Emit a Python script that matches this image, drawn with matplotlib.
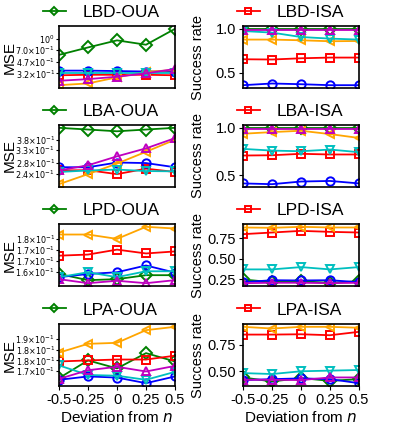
import matplotlib
matplotlib.use("Agg")
import matplotlib.pyplot as plt
from matplotlib.ticker import FixedLocator, NullLocator

plt.rcParams['font.family'] = ['Liberation Sans', 'DejaVu Sans']

x = [-0.5, -0.25, 0, 0.25, 0.5]
xtick_labels = ['-0.5', '-0.25', '0', '0.25', '0.5']

# series order: green D, red s, blue o, orange <, cyan v, magenta ^
colors = ['green', 'red', 'blue', 'orange', 'c', 'm']
markers = ['D', 's', 'o', '<', 'v', '^']

# ---- MSE (left column) ----
lbd_oua = [
    [0.59, 0.755, 0.955, 0.826, 1.40],
    [0.30, 0.305, 0.305, 0.305, 0.30],
    [0.35, 0.35, 0.345, 0.34, 0.34],
    [0.216, 0.229, 0.28, 0.337, 0.357],
    [0.327, 0.327, 0.327, 0.327, 0.327],
    [0.25, 0.264, 0.286, 0.32, 0.37],
]
lba_oua = [
    [0.444, 0.434, 0.424, 0.434, 0.444],
    [0.252, 0.253, 0.24, 0.258, 0.247],
    [0.263, 0.263, 0.28, 0.278, 0.263],
    [0.21, 0.24, 0.276, 0.323, 0.379],
    [0.247, 0.252, 0.255, 0.25, 0.249],
    [0.252, 0.27, 0.304, 0.338, 0.387],
]
lpd_oua = [
    [0.1586, 0.1555, 0.156, 0.158, 0.158],
    [0.1682, 0.1688, 0.1715, 0.1694, 0.1705],
    [0.157, 0.1586, 0.1595, 0.163, 0.1593],
    [0.180, 0.180, 0.1775, 0.1845, 0.1835],
    [0.157, 0.1595, 0.157, 0.160, 0.160],
    [0.156, 0.154, 0.1552, 0.154, 0.1555],
]
lpa_oua = [
    [0.1667, 0.1765, 0.172, 0.1807, 0.1759],
    [0.1759, 0.1765, 0.177, 0.177, 0.1792],
    [0.1658, 0.1676, 0.167, 0.164, 0.1676],
    [0.181, 0.1862, 0.1868, 0.1946, 0.1967],
    [0.1737, 0.1684, 0.168, 0.1658, 0.1701],
    [0.1663, 0.171, 0.1729, 0.1703, 0.1734],
]

# ---- Success rate (right column) ----
lbd_isa = [
    [1.0, 1.0, 1.0, 1.0, 1.0],
    [0.655, 0.652, 0.666, 0.674, 0.674],
    [0.361, 0.38, 0.372, 0.361, 0.361],
    [0.878, 0.878, 0.87, 0.859, 0.862],
    [0.975, 0.957, 0.907, 0.889, 0.878],
    [0.983, 0.983, 0.983, 0.983, 0.983],
]
lba_isa = [
    [1.0, 1.0, 1.0, 1.0, 1.0],
    [0.708, 0.711, 0.726, 0.719, 0.719],
    [0.414, 0.406, 0.434, 0.44, 0.414],
    [0.9375, 0.955, 0.969, 0.934, 0.893],
    [0.778, 0.76, 0.753, 0.771, 0.743],
    [0.986, 0.986, 0.986, 0.986, 0.986],
]
lpd_isa = [
    [0.25, 0.217, 0.229, 0.209, 0.229],
    [0.799, 0.819, 0.839, 0.827, 0.819],
    [0.217, 0.241, 0.238, 0.241, 0.217],
    [0.88, 0.876, 0.888, 0.88, 0.88],
    [0.372, 0.372, 0.40, 0.372, 0.40],
    [0.205, 0.21, 0.21, 0.205, 0.21],
]
lpa_isa = [
    [0.442, 0.404, 0.436, 0.41, 0.426],
    [0.845, 0.845, 0.848, 0.839, 0.871],
    [0.417, 0.426, 0.433, 0.426, 0.388],
    [0.918, 0.902, 0.918, 0.918, 0.909],
    [0.483, 0.474, 0.5, 0.506, 0.512],
    [0.42, 0.42, 0.417, 0.442, 0.442],
]

left_titles = ['LBD-OUA', 'LBA-OUA', 'LPD-OUA', 'LPA-OUA']
right_titles = ['LBD-ISA', 'LBA-ISA', 'LPD-ISA', 'LPA-ISA']
left_data = [lbd_oua, lba_oua, lpd_oua, lpa_oua]
right_data = [lbd_isa, lba_isa, lpd_isa, lpa_isa]

left_ticks = [
    [0.32, 0.47, 0.70, 1.0],
    [0.24, 0.28, 0.33, 0.38],
    [0.1595, 0.1655, 0.1715, 0.1775],
    [0.1705, 0.1765, 0.1825, 0.189],
]
left_tick_labels = [
    [r'$3.2{\times}10^{-1}$', r'$4.7{\times}10^{-1}$', r'$7.0{\times}10^{-1}$', r'$10^{0}$'],
    [r'$2.4{\times}10^{-1}$', r'$2.8{\times}10^{-1}$', r'$3.3{\times}10^{-1}$', r'$3.8{\times}10^{-1}$'],
    [r'$1.6{\times}10^{-1}$', r'$1.7{\times}10^{-1}$', r'$1.7{\times}10^{-1}$', r'$1.8{\times}10^{-1}$'],
    [r'$1.7{\times}10^{-1}$', r'$1.8{\times}10^{-1}$', r'$1.8{\times}10^{-1}$', r'$1.9{\times}10^{-1}$'],
]
right_ticks = [
    [0.5, 1.0],
    [0.5, 1.0],
    [0.25, 0.5, 0.75],
    [0.25, 0.5, 0.75],
]
right_tick_labels = [
    ['0.5', '1.0'],
    ['0.5', '1.0'],
    ['0.25', '0.50', '0.75'],
    ['0.25', '0.50', '0.75'],
]

W, H = 399, 426
fig = plt.figure(figsize=(W / 100, H / 100), dpi=100)

ax_h = 62
row_tops = [26, 125, 224, 324]
col_lefts = [59, 243]
ax_w = 116


def make_ax(left, top):
    return fig.add_axes([left / W, 1 - (top + ax_h) / H, ax_w / W, ax_h / H])


for r in range(4):
    for c in range(2):
        ax = make_ax(col_lefts[c], row_tops[r])
        data = left_data[r] if c == 0 else right_data[r]
        handles = []
        for i, ys in enumerate(data):
            ln, = ax.plot(x, ys, color=colors[i], marker=markers[i], markersize=6,
                          markerfacecolor='none', markeredgewidth=1.4, linewidth=1.3)
            handles.append(ln)
        ax.set_xlim(-0.5, 0.5)
        for sp in ax.spines.values():
            sp.set_linewidth(1.2)
        if c == 0:
            ax.set_yscale('log')
            ax.yaxis.set_major_locator(FixedLocator(left_ticks[r]))
            ax.yaxis.set_minor_locator(NullLocator())
            ax.set_yticklabels(left_tick_labels[r])
            ax.tick_params(axis='y', labelsize=5.8, length=2, width=0.8, pad=1)
            ax.set_ylabel('MSE', fontsize=11)
            ax.yaxis.set_label_coords(-42 / ax_w, 0.5)
            leg_handle = handles[0]
            leg_label = left_titles[r]
            leg_x = 43
        else:
            ax.yaxis.set_major_locator(FixedLocator(right_ticks[r]))
            ax.set_yticklabels(right_tick_labels[r])
            ax.tick_params(axis='y', labelsize=10.5, length=3, width=0.8, pad=2)
            ax.set_ylabel('Success rate', fontsize=10.5)
            ax.yaxis.set_label_coords(-38 / ax_w, 0.5)
            leg_handle = handles[1]
            leg_label = right_titles[r]
            leg_x = 237
        ax.autoscale(enable=True, axis='y')
        if r == 3:
            ax.set_xticks(x)
            ax.set_xticklabels(xtick_labels)
            ax.tick_params(axis='x', labelsize=10.5, length=3, width=0.8, pad=2)
            ax.set_xlabel('Deviation from $n$', fontsize=11, labelpad=2)
        else:
            ax.set_xticks([])
        fig.legend([leg_handle], [leg_label], loc='center left',
                   bbox_to_anchor=(leg_x / W, 1 - (row_tops[r] - 14) / H),
                   bbox_transform=fig.transFigure, frameon=False, fontsize=12.5,
                   handlelength=1.3, handletextpad=1.0, borderpad=0,
                   borderaxespad=0, markerscale=0.75)

fig.savefig('out.png', dpi=100)
